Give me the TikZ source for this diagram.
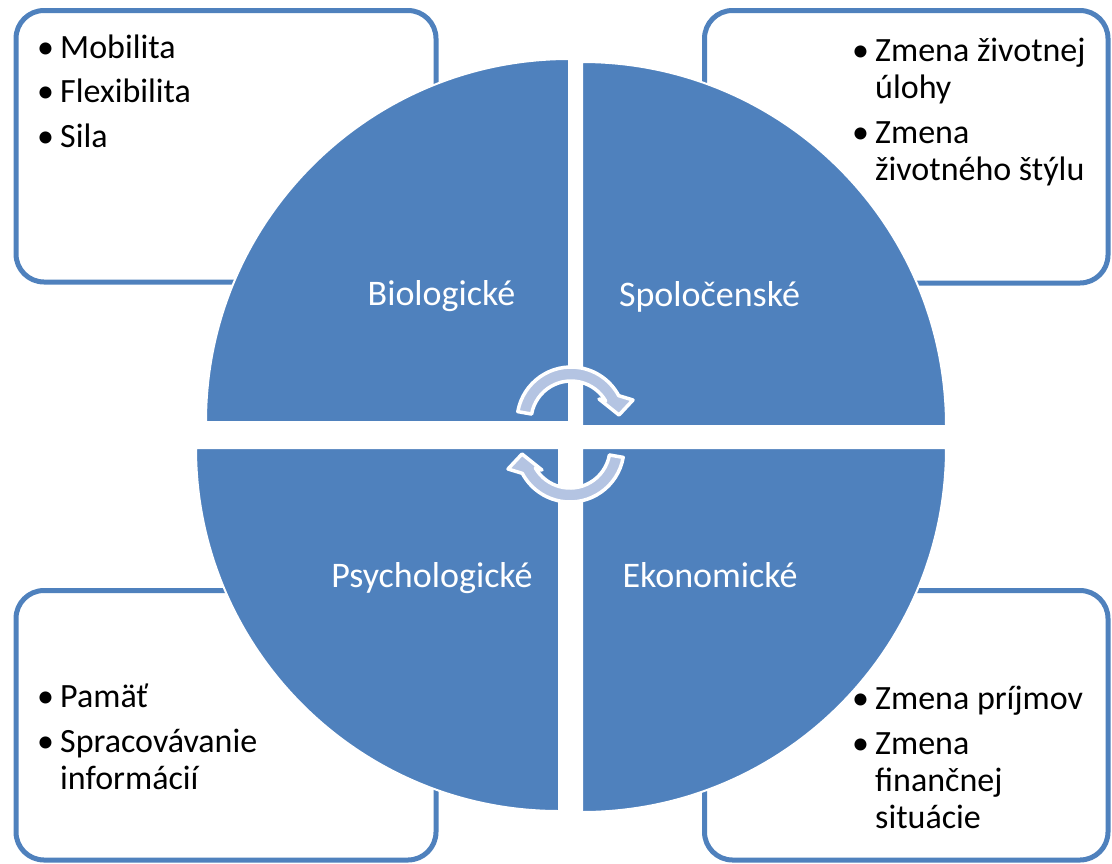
\documentclass[tikz,border=0pt]{standalone}
\usepackage{fontspec}
\setmainfont{Carlito}
\definecolor{qblue}{RGB}{79,129,189}
\definecolor{ablue}{RGB}{180,196,226}
\newcommand{\bul}[1]{\makebox[23pt][l]{\textbullet}#1}
\newcommand{\hang}[1]{\hspace*{23pt}#1}
\tikzset{
  box/.style={draw=qblue, line width=5pt, rounded corners=28pt, fill=white, inner sep=0pt},
  quad/.style={fill=qblue, draw=white, line width=2pt},
  lbl/.style={text=white, font=\fontsize{36}{43}\selectfont, anchor=base, inner sep=0pt},
  items/.style={font=\fontsize{34}{37}\selectfont, align=left, anchor=base west, inner sep=0pt, text=black},
  cyclearrow/.pic={
    \draw[fill=ablue, draw=white, line width=3.5pt, line join=round]
      (170:40) -- (170:54) arc[start angle=170, end angle=28, radius=54]
      -- (62,21) -- (48,6) -- (28,22) -- (30:40)
      arc[start angle=30, end angle=170, radius=40] -- cycle;
  }
}
\begin{document}
\begin{tikzpicture}[x=1pt,y=1pt]
\useasboundingbox (0,0) rectangle (1112,-863);
% outer boxes
\node[box, minimum width=420pt, minimum height=271.5pt] (tlbox) at (226,-146.25) {};
\node[box, minimum width=403.5pt, minimum height=272.5pt] (trbox) at (906.25,-146.75) {};
\node[box, minimum width=420pt, minimum height=269.5pt] (blbox) at (226,-725.25) {};
\node[box, minimum width=403.5pt, minimum height=269.5pt] (brbox) at (906.25,-725.25) {};
% box texts (base anchor = baseline of the last line)
\node[items] (tltext) at (37,-147) {\bul{Mobilita}\\[7.5pt]\bul{Flexibilita}\\[7.5pt]\bul{Sila}};
\node[items] (trtext) at (852,-180) {\bul{Zmena životnej}\\\hang{úlohy}\\[7.5pt]\bul{Zmena}\\\hang{životného štýlu}};
\node[items] (bltext) at (37,-789) {\bul{Pamäť}\\[7.5pt]\bul{Spracovávanie}\\\hang{informácií}};
\node[items] (brtext) at (852,-828) {\bul{Zmena príjmov}\\[7.5pt]\bul{Zmena}\\\hang{finančnej}\\\hang{situácie}};
% quadrants
\path[quad] (569,-422) -- ++(0,363) arc[start angle=90, end angle=180, radius=363] -- cycle;
\path[quad] (582,-426) -- ++(364,0) arc[start angle=0, end angle=90, radius=364] -- cycle;
\path[quad] (559,-448) -- ++(-363,0) arc[start angle=180, end angle=270, radius=363] -- cycle;
\path[quad] (582,-448) -- ++(0,-364) arc[start angle=270, end angle=360, radius=364] -- cycle;
% labels
\node[lbl] (bio) at (441.5,-305) {Biologické};
\node[lbl] (spo) at (709.5,-306) {Spoločenské};
\node[lbl] (psy) at (432,-587) {Psychologické};
\node[lbl] (eko) at (710,-587) {Ekonomické};
% cycle arrows
\pic at (571,-421) {cyclearrow};
\pic[rotate=180] at (570,-448) {cyclearrow};
\end{tikzpicture}
\end{document}
